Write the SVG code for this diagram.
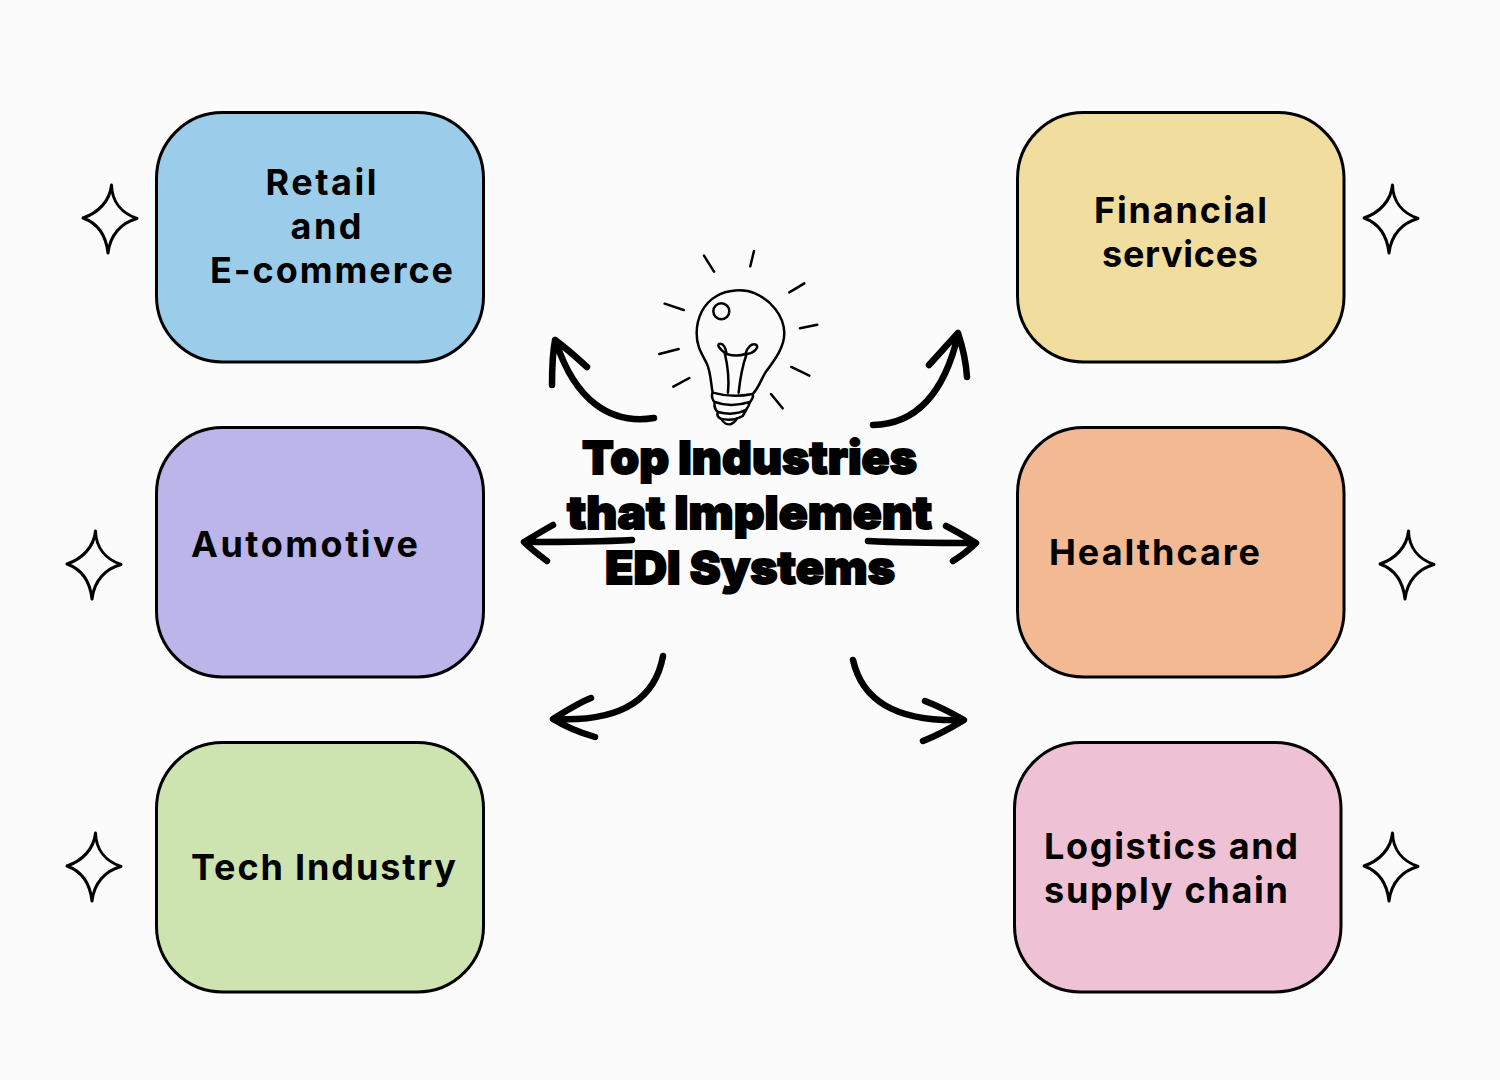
<svg xmlns="http://www.w3.org/2000/svg" width="1500" height="1080" viewBox="0 0 1500 1080">
<defs>
<style>
.box{stroke:#000;stroke-width:3}
.lbl{font-family:"Inter","Noto Sans",sans-serif;font-weight:700;font-size:36px;fill:#000}
.ttl{font-family:"Inter","Lato",sans-serif;font-weight:900;font-size:46px;fill:#000;stroke:#000;stroke-width:1.8px}
.arr{fill:none;stroke:#000;stroke-width:6.500;stroke-linecap:round;stroke-linejoin:round}
.bulb{fill:none;stroke:#000;stroke-width:7.500;stroke-linecap:round;stroke-linejoin:round}
.star{fill:none;stroke:#000;stroke-width:3;stroke-linejoin:round}
</style>
<path id="s" d="M1.500 -34C2 -18 11 -6 27 -0.500C11 4 0 16 -2 34C-4 16 -13 4 -27 -1C-12 -6 0 -18 1.500 -34Z"/>
</defs>
<rect width="1500" height="1080" fill="#fbfbfb"/>
<g id="node-retail"><rect class="box" x="156.500" y="112.500" width="327" height="249.500" rx="66" fill="#9bcdeb"/>
<text class="lbl" x="265.500" y="195" textLength="111">Retail</text><text class="lbl" x="290.500" y="239" textLength="71">and</text><text class="lbl" x="210" y="283" textLength="243">E-commerce</text></g>
<g id="node-automotive"><rect class="box" x="156.500" y="427.500" width="327" height="249.500" rx="66" fill="#bbb5e9"/>
<text class="lbl" x="191" y="557" textLength="227">Automotive</text></g>
<g id="node-tech"><rect class="box" x="156.500" y="742.500" width="327" height="249.500" rx="66" fill="#cde4b1"/>
<text class="lbl" x="191" y="880" textLength="265">Tech Industry</text></g>
<g id="node-financial"><rect class="box" x="1017.500" y="112.500" width="326.500" height="249.500" rx="66" fill="#f1dd9e"/>
<text class="lbl" x="1094" y="223" textLength="173">Financial</text><text class="lbl" x="1102" y="267" textLength="156">services</text></g>
<g id="node-healthcare"><rect class="box" x="1017.500" y="427.500" width="326.500" height="249.500" rx="66" fill="#f3b992"/>
<text class="lbl" x="1049" y="564.500" textLength="211">Healthcare</text></g>
<g id="node-logistics"><rect class="box" x="1014.500" y="742.500" width="326.500" height="249.500" rx="66" fill="#efc1d4"/>
<text class="lbl" x="1044" y="858.500" textLength="254">Logistics and</text><text class="lbl" x="1044" y="902.500" textLength="244">supply chain</text></g>
<g id="stars">
<use href="#s" class="star" x="110" y="219"/><use href="#s" class="star" x="1391" y="219"/>
<use href="#s" class="star" x="94" y="565"/><use href="#s" class="star" x="1407" y="565"/>
<use href="#s" class="star" x="94" y="867"/><use href="#s" class="star" x="1391" y="867"/>
</g>
<g id="node-bulb" class="bulb" transform="translate(520 240) scale(.3333)">
<path d="M578 458C572 425 572 395 560 370C545 340 530 320 530 280C530 235 550 190 590 168C620 150 670 145 705 160C750 180 793 225 793 280C793 325 760 365 738 395C722 420 718 440 700 460"/>
<circle cx="604" cy="214" r="24"/>
<path d="M624 458C628 420 624 380 614 338C600 328 590 316 598 312C610 308 618 325 620 342C640 348 660 348 676 342C682 322 695 308 708 314C720 322 700 340 680 342C668 375 660 420 656 458"/>
<path d="M578 458C620 470 660 470 698 462C702 472 695 480 690 486C650 498 615 498 582 485C576 475 574 465 578 458Z"/>
<path d="M584 487C582 500 586 510 594 516C625 524 655 522 678 510C684 502 688 494 690 486"/>
<path d="M594 516C590 525 594 532 602 536C625 542 650 538 668 528C672 522 676 516 678 510"/>
<path d="M604 537C610 548 622 556 634 552C642 548 648 542 650 536"/>
<path d="M552 47L582 95M702 33L691 79M853 130L808 157M434 191L491 210M892 254L840 265M418 342L476 327M814 381L868 407M460 440L508 414M753 462L788 505"/>
</g>
<g id="title">
<text class="ttl" x="582" y="474" textLength="335" lengthAdjust="spacingAndGlyphs">Top Industries</text>
<text class="ttl" x="567" y="529" textLength="365" lengthAdjust="spacingAndGlyphs">that Implement</text>
<text class="ttl" x="605" y="584" textLength="290" lengthAdjust="spacingAndGlyphs">EDI Systems</text>
</g>
<g id="connectors" class="arr">
<path d="M654 418C610 425 575 400 556 342M587 367C575 356 566 348 555 340C552 356 552 370 552 385"/>
<path d="M873 425C918 424 945 390 958 335M929 365C938 355 948 344 958 333C963 348 966 362 967 377"/>
<path d="M632 540C595 542 560 542 525 542M553 525C544 530 534 536 524 542C531 549 539 555 547 561"/>
<path d="M868 541C905 543 945 543 975 543M946 526C956 531 966 537 976 543C969 550 961 556 953 561"/>
<path d="M663 656C655 700 620 722 555 719M591 698C578 703 566 711 553 719C566 727 581 733 595 737"/>
<path d="M853 660C862 700 895 722 962 720M925 701C938 706 950 712 964 720C951 728 938 735 923 741"/>
</g>
</svg>
